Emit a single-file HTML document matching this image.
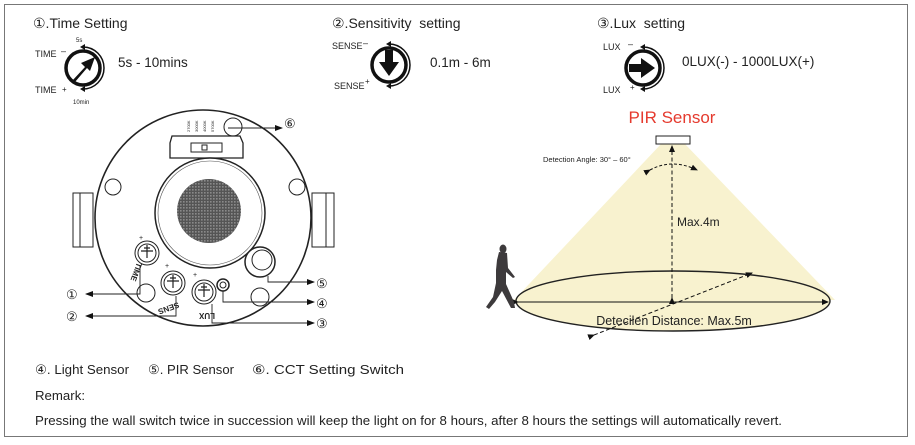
<!DOCTYPE html>
<html><head><meta charset="utf-8"><style>
html,body{margin:0;padding:0;background:#fff}
svg{display:block}
text{font-family:"Liberation Sans",sans-serif;fill:#222}
</style></head><body>
<svg width="915" height="445" viewBox="0 0 915 445" xmlns="http://www.w3.org/2000/svg">
<defs>
<marker id="ar" markerWidth="8" markerHeight="8" refX="7" refY="4" orient="auto" markerUnits="userSpaceOnUse"><path d="M0,1 L8,4 L0,7 Z" fill="#111"/></marker>
<marker id="as" markerWidth="7" markerHeight="7" refX="6" refY="3.5" orient="auto" markerUnits="userSpaceOnUse"><path d="M0,0.5 L7,3.5 L0,6.5 Z" fill="#111"/></marker>
<pattern id="mesh" width="3" height="3" patternUnits="userSpaceOnUse"><rect width="3" height="3" fill="#555"/><rect width="1.6" height="1.6" fill="#8a8a8a"/></pattern>
</defs>
<rect x="4.5" y="4.5" width="903" height="432" fill="#fff" stroke="#777" stroke-width="1"/>

<text x="33" y="28" font-size="14">①.Time Setting</text>
<text x="332" y="28" font-size="14">②.Sensitivity&#160; setting</text>
<text x="597" y="28" font-size="14">③.Lux&#160; setting</text>

<!-- Time dial -->
<text x="35" y="57" font-size="9">TIME</text><text x="61" y="54" font-size="9">–</text>
<text x="35" y="93" font-size="9">TIME</text><text x="62" y="92" font-size="8">+</text>
<text x="76" y="42" font-size="6">5s</text><text x="73" y="104" font-size="6">10min</text>
<circle cx="83" cy="68" r="17" fill="#fff" stroke="#111" stroke-width="3.5"/>
<path d="M83,47 A21,21 0 0 1 83,89" fill="none" stroke="#111" stroke-width="1.5"/>
<path d="M80,47 l5,-3 v6 z M80,89 l5,-3 v6 z" fill="#111"/>
<path d="M72,81 L85,67 L81,63 L95,57 L90,71 L87,68 L75,82 Z" fill="#111"/>
<text x="118" y="67" font-size="13.5">5s - 10mins</text>

<!-- Sense dial -->
<text x="332" y="49" font-size="9">SENSE</text><text x="363" y="46" font-size="9">–</text>
<text x="334" y="89" font-size="9">SENSE</text><text x="365" y="84" font-size="8">+</text>
<circle cx="389" cy="65" r="17" fill="#fff" stroke="#111" stroke-width="3.5"/>
<path d="M389,44 A21,21 0 0 1 389,86" fill="none" stroke="#111" stroke-width="1.5"/>
<path d="M386,44 l5,-3 v6 z M386,86 l5,-3 v6 z" fill="#111"/>
<path d="M385,50 h8 v12 h6 l-10,14 l-10,-14 h6 z" fill="#111"/>
<text x="430" y="67" font-size="13.5">0.1m - 6m</text>

<!-- Lux dial -->
<text x="603" y="50" font-size="9">LUX</text><text x="628" y="47" font-size="9">–</text>
<text x="603" y="93" font-size="9">LUX</text><text x="630" y="90" font-size="8">+</text>
<circle cx="643" cy="68" r="17" fill="#fff" stroke="#111" stroke-width="3.5"/>
<path d="M643,47 A21,21 0 0 1 643,89" fill="none" stroke="#111" stroke-width="1.5"/>
<path d="M640,47 l5,-3 v6 z M640,89 l5,-3 v6 z" fill="#111"/>
<path d="M629,64 h12 v-6 l14,10 l-14,10 v-6 h-12 z" fill="#111"/>
<text x="682" y="66" font-size="13.5">0LUX(-) - 1000LUX(+)</text>

<!-- Device -->
<rect x="73" y="193" width="20" height="54" fill="#fff" stroke="#222"/>
<line x1="80" y1="193" x2="80" y2="247" stroke="#222"/>
<rect x="312" y="193" width="22" height="54" fill="#fff" stroke="#222"/>
<line x1="326" y1="193" x2="326" y2="247" stroke="#222"/>
<circle cx="203" cy="218" r="108" fill="#fff" stroke="#222" stroke-width="1.6"/>
<circle cx="113" cy="187" r="8" fill="#fff" stroke="#222"/>
<circle cx="297" cy="187" r="8" fill="#fff" stroke="#222"/>
<circle cx="233" cy="127" r="9" fill="#fff" stroke="#222"/>
<circle cx="146" cy="293" r="9" fill="#fff" stroke="#222"/>
<circle cx="260" cy="297" r="9" fill="#fff" stroke="#222"/>
<text x="190" y="132" font-size="4" fill="#777" transform="rotate(-90 190 132)">2700K</text>
<text x="198" y="132" font-size="4" fill="#777" transform="rotate(-90 198 132)">3000K</text>
<text x="206" y="132" font-size="4" fill="#777" transform="rotate(-90 206 132)">4000K</text>
<text x="214" y="132" font-size="4" fill="#777" transform="rotate(-90 214 132)">5700K</text>
<path d="M172,136 L240,136 L243,143 L243,158 L170,158 L170,143 Z" fill="#fff" stroke="#222" stroke-width="1.3"/>
<rect x="191" y="143" width="31" height="9" fill="#fff" stroke="#222"/>
<rect x="202" y="145" width="5" height="5" fill="#fff" stroke="#222"/>
<circle cx="210" cy="213" r="55" fill="#fff" stroke="#222" stroke-width="1.5"/>
<circle cx="210" cy="213" r="52" fill="none" stroke="#555" stroke-width="0.6"/>
<circle cx="209" cy="211" r="32" fill="url(#mesh)"/>
<g fill="#fff" stroke="#222">
<circle cx="147" cy="253" r="12"/><circle cx="147" cy="253" r="9"/>
<circle cx="173" cy="283" r="12"/><circle cx="173" cy="283" r="9"/>
<circle cx="204" cy="292" r="12"/><circle cx="204" cy="292" r="9"/>
</g>
<g stroke="#222" stroke-width="1.2" fill="none">
<path d="M144,248 h6 M147,245 v13 M141,251 h12"/>
<path d="M170,278 h6 M173,275 v13 M167,281 h12"/>
<path d="M201,287 h6 M204,284 v13 M198,290 h12"/>
</g>
<circle cx="223" cy="285" r="6" fill="#fff" stroke="#222" stroke-width="1.5"/>
<circle cx="223" cy="285" r="3" fill="#fff" stroke="#222"/>
<circle cx="260" cy="262" r="15" fill="#fff" stroke="#222" stroke-width="1.5"/>
<circle cx="262" cy="260" r="10" fill="#fff" stroke="#222"/>
<text x="137" y="262" font-size="8" font-weight="bold" transform="rotate(110 137 262)">TIME</text>
<text x="178" y="302" font-size="8" font-weight="bold" transform="rotate(160 178 302)">SENS</text>
<text x="215" y="313" font-size="8" font-weight="bold" transform="rotate(180 215 313)">LUX</text>
<text x="139" y="240" font-size="7">+</text><text x="165" y="268" font-size="7">+</text><text x="193" y="277" font-size="7">+</text>
<g stroke="#222" fill="none" stroke-width="0.9">
<path d="M140,265 V294 H86" marker-end="url(#ar)"/>
<path d="M176,296 V316 H86" marker-end="url(#ar)"/>
<path d="M228,128 H282" marker-end="url(#ar)"/>
<path d="M268,276 V282 H314" marker-end="url(#ar)"/>
<path d="M223,291 V302 H314" marker-end="url(#ar)"/>
<path d="M212,304 V323 H314" marker-end="url(#ar)"/>
</g>
<g font-size="13">
<text x="66" y="299">①</text><text x="66" y="321">②</text>
<text x="284" y="128">⑥</text><text x="316" y="288">⑤</text>
<text x="316" y="308">④</text><text x="316" y="328">③</text>
</g>

<!-- PIR right -->
<text x="672" y="123" font-size="17" style="fill:#e53a2e" text-anchor="middle">PIR Sensor</text>
<polygon points="662,143 684,143 835,300 514,300" fill="#f8f2cf"/>
<ellipse cx="673" cy="301" rx="157" ry="30" fill="#f8f2cf" stroke="#222" stroke-width="1.4"/>
<rect x="656" y="136" width="34" height="8" fill="#fff" stroke="#222"/>
<text x="543" y="162" font-size="7.5">Detection Angle: 30° – 60°</text>
<path d="M650,170 Q672,158 697,170" fill="none" stroke="#111" stroke-dasharray="3,2" marker-start="url(#as)" marker-end="url(#as)"/>
<line x1="672" y1="298" x2="672" y2="146" stroke="#111" stroke-dasharray="4,2.5" marker-start="url(#as)" marker-end="url(#as)"/>
<text x="677" y="226" font-size="12">Max.4m</text>
<line x1="518" y1="302" x2="828" y2="302" stroke="#111" stroke-width="1.1" marker-start="url(#as)" marker-end="url(#as)"/>
<line x1="594" y1="335" x2="752" y2="273" stroke="#111" stroke-dasharray="4,2.5" marker-start="url(#as)" marker-end="url(#as)"/>
<text x="674" y="325" font-size="12.5" text-anchor="middle">Detecilen Distance: Max.5m</text>
<g fill="#3d3a3c">
<ellipse cx="503" cy="249" rx="3.5" ry="4.5"/>
<path d="M499,252 L507,253 L508,268 L515,277 L513,278 L506,272 L506,284 L514,302 L515,308 L511,308 L502,291 L495,302 L489,309 L486,307 L493,297 L496,283 L496,270 L497,260 Z"/>
</g>

<g font-size="13">
<text x="35" y="374" textLength="94" lengthAdjust="spacingAndGlyphs">④. Light Sensor</text>
<text x="148" y="374" textLength="86" lengthAdjust="spacingAndGlyphs">⑤. PIR Sensor</text>
<text x="252" y="374" textLength="152" lengthAdjust="spacingAndGlyphs">⑥. CCT Setting Switch</text>
<text x="35" y="400" textLength="50" lengthAdjust="spacingAndGlyphs">Remark:</text>
<text x="35" y="425" textLength="747" lengthAdjust="spacingAndGlyphs">Pressing the wall switch twice in succession will keep the light on for 8 hours, after 8 hours the settings will automatically revert.</text>
</g>
</svg>
</body></html>
